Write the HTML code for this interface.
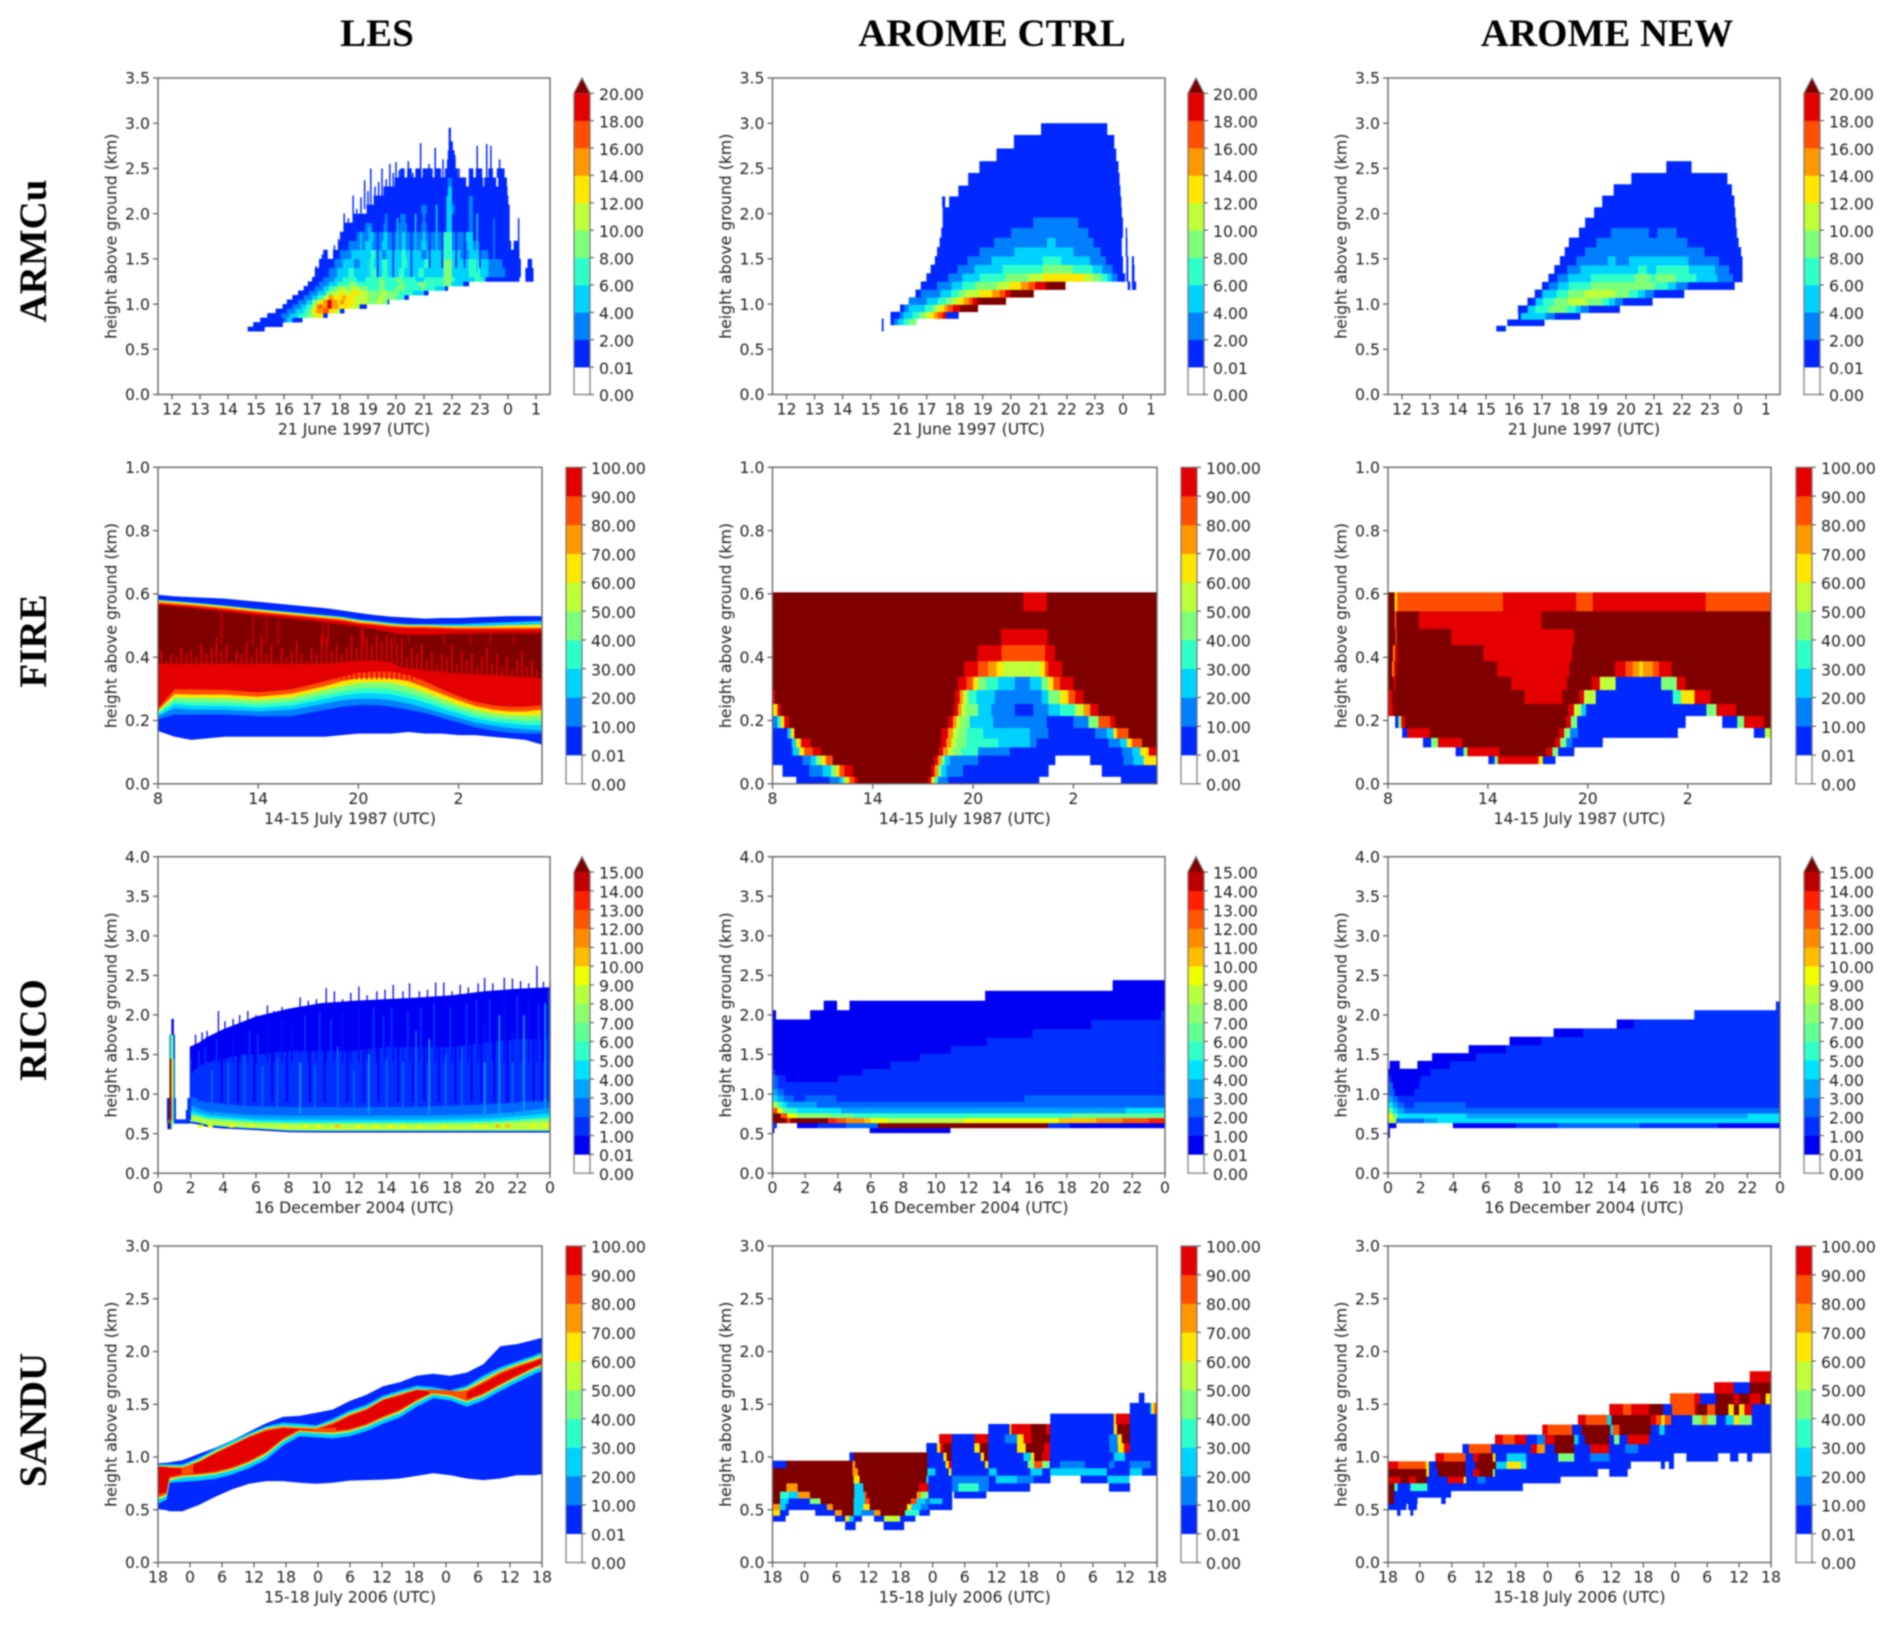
<!DOCTYPE html>
<html lang="en">
<head>
<meta charset="utf-8">
<title>Cloud fraction and liquid water panels</title>
<style>
html,body{margin:0;padding:0;background:#fff;width:1892px;height:1625px;overflow:hidden}
#figure{display:block;filter:blur(.7px)}
.tick{font-family:"DejaVu Sans",sans-serif;font-size:15.7px;fill:#222}
.head{font-family:"Liberation Serif",serif;font-weight:bold;font-size:39px;fill:#000;text-anchor:middle}
</style>
</head>
<body>
<svg id="figure" xmlns="http://www.w3.org/2000/svg" width="1892" height="1625" viewBox="0 0 1892 1625">
<rect width="1892" height="1625" fill="#fff"/>
<text class="head" x="377" y="46">LES</text>
<text class="head" x="992" y="46">AROME CTRL</text>
<text class="head" x="1607" y="46">AROME NEW</text>
<text class="head" transform="translate(46 251) rotate(-90)">ARMCu</text>
<text class="head" transform="translate(46 641) rotate(-90)">FIRE</text>
<text class="head" transform="translate(46 1030) rotate(-90)">RICO</text>
<text class="head" transform="translate(46 1420) rotate(-90)">SANDU</text>
</svg>
<script>
/* ---------- axis labels and ticks ---------- */
const armcuXTicks=[12,13,14,15,16,17,18,19,20,21,22,23,24,25];
const armcuXLabels=["12","13","14","15","16","17","18","19","20","21","22","23","0","1"];
const armcuYTicks=[0,.5,1,1.5,2,2.5,3,3.5];
const fireXTicks=[8,14,20,26];
const fireXLabels=["8","14","20","2"];
const fireYTicks=[0,.2,.4,.6,.8,1];
const ricoXTicks=[0,2,4,6,8,10,12,14,16,18,20,22,24];
const ricoXLabels=["0","2","4","6","8","10","12","14","16","18","20","22","0"];
const ricoYTicks=[0,.5,1,1.5,2,2.5,3,3.5,4];
const sanduXTicks=[18,24,30,36,42,48,54,60,66,72,78,84,90];
const sanduXLabels=["18","0","6","12","18","0","6","12","18","0","6","12","18"];
const sanduYTicks=[0,.5,1,1.5,2,2.5,3];
const xTitles=["21 June 1997 (UTC)","14-15 July 1987 (UTC)","16 December 2004 (UTC)","15-18 July 2006 (UTC)"];

/* ---------- colour levels ---------- */
const levels20=[0,.01,2,4,6,8,10,12,14,16,18,20];
const levels100=[0,.01,10,20,30,40,50,60,70,80,90,100];
const levels15=[0,.01,1,2,3,4,5,6,7,8,9,10,11,12,13,14,15];
const colors10=["#0028ff","#0080ff","#00d2ff","#2effc8","#7dff7a","#bfff39","#ffe600","#ff9800","#ff4e00","#e40000"];
const colors15=["#0000f4","#0030ff","#0068ff","#00a4ff","#00e2ff","#30ffc8","#60ff94","#8cff6c","#b8ff40","#eeff00","#ffbe00","#ff8a00","#ff5500","#ff2000","#c00000"];
const overColor="#800000";

/* ---------- ARMCu LES ---------- */
const armcuLesHeights=[.70,.75,.8,.85,.9,.95,1,1.05,1.1,1.15,1.2,1.25,1.3,1.4,1.5,1.6,1.7,1.8,1.9,2,2.1,2.2,2.3,2.4,2.5,2.6,2.7,2.8,2.95];
const armcuLesRuns=[
[14.7,1,15.3],
[14.9,1,15.95],
[15.15,1,16,3,16.1,5,16.3,1,16.65],
[15.4,1,15.9,3,16.2,5,16.5,7,16.8,9,17,11,17.2,13,17.4,1,17.55],
[15.7,1,16.1,3,16.4,5,16.7,7,16.9,9,17,13,17.15,15,17.4,17,17.6,13,17.85,11,18,1,18.15],
[15.95,1,16.3,3,16.6,5,16.8,7,17,11,17.15,15,17.25,17,17.35,15,17.55,19,17.7,15,17.95,13,18.4,11,18.7,1,18.95],
[16.1,1,16.5,3,16.8,5,17,9,17.2,13,17.4,15,17.55,19,17.7,15,17.9,13,18,15,18.15,13,18.5,11,19,9,19.3,11,19.5,9,19.7,1,19.75],
[16.3,1,16.7,3,17,5,17.2,7,17.4,11,17.6,15,17.75,13,18.1,15,18.2,13,18.5,11,19,9,19.4,11,19.6,9,20,7,20.3,1,20.45],
[16.5,1,16.9,3,17.2,5,17.5,9,17.7,11,18,13,18.15,11,18.4,13,18.7,11,19,9,19.5,11,19.65,9,20.1,7,20.6,5,21,1,21.15],
[16.7,1,17.1,3,17.4,5,17.6,7,17.8,9,18,11,18.2,9,18.4,11,18.7,9,19,7,19.4,9,19.6,7,20,9,20.3,7,20.9,9,21,7,21.4,5,21.75,1,21.85],
[16.85,1,17.25,3,17.6,5,17.9,7,18.3,9,18.6,7,19.4,9,19.6,7,20.1,9,20.3,7,20.8,9,21.1,7,21.7,9,21.95,7,22,5,22.4,1,22.6],
[17,1,17.4,3,17.8,5,18.1,7,18.6,5,18.9,7,19.4,9,19.55,7,20,9,20.2,7,20.7,5,21,7,21.7,9,22,7,22.1,5,22.8,7,23.1,5,23.2,1,24.4,0,24.62,1,24.9],
[17.1,1,17.6,3,17.9,5,18.3,7,18.5,5,19,7,19.3,5,19.5,7,19.7,5,20.1,7,20.3,5,20.8,7,21,5,21.7,9,22,5,22.6,7,23,5,23.3,3,23.9,1,24.45,0,24.62,1,24.9],
[17.25,1,17.8,3,18.1,5,18.5,3,18.7,5,19,7,19.2,5,19.5,7,19.7,5,20.2,7,20.4,5,21,7,21.2,5,21.7,9,22,5,22.6,7,23,5,23.3,3,23.8,1,24.45,0,24.7,1,24.85],
[17.4,1,17.55,0,17.75,1,18,3,18.4,5,19.1,7,19.25,5,19.5,3,19.65,5,20.2,7,20.35,5,20.9,3,21.1,5,21.7,7,22,5,22.3,3,22.6,5,23,3,23.3,1,24.4],
[17.95,1,18.3,3,18.9,5,19.15,3,19.5,5,19.7,3,20.2,5,20.35,3,20.9,5,21.1,3,21.7,7,22,3,22.55,5,22.75,3,23,1,24.1,0,24.2,1,24.35],
[18,1,18.6,3,19.1,5,19.2,3,19.55,5,19.7,3,20.2,5,20.35,3,20.95,5,21.05,3,21.7,7,22,3,22.5,5,22.75,1,24.05],
[18.15,1,18.9,3,19.15,1,19.55,3,19.7,1,20.1,3,20.4,1,20.9,3,21.1,1,21.8,5,22,1,22.6,3,22.75,1,24.05],
[18.5,1,19.6,3,19.7,1,20.15,3,20.35,1,20.95,3,21.05,1,21.8,5,22,1,22.6,3,22.75,1,24.05],
[18.95,1,20.9,3,21.1,1,21.8,5,22,3,22.1,1,22.6,3,22.75,1,24.05],
[19.2,1,21.8,5,22,1,22.6,3,22.75,1,24],
[19.55,1,21.85,5,22,1,23.97],
[19.95,1,21.85,3,22,1,22.45,0,22.6,1,23.1,0,23.15,1,23.55,0,23.65,1,23.95],
[20.15,1,20.25,0,20.4,1,20.55,0,20.7,1,20.85,0,20.95,1,21.3,0,21.4,1,21.6,0,21.75,1,22.2,0,22.6,1,22.75,0,22.85,1,23.05,0,23.3,1,23.45,0,23.6,1,23.85],
[21.82,1,22.12],
[21.85,1,22.08],
[21.88,1,22.02],
[21.88,1,21.95]
];
const armcuLesSpikeTime=[17.15,17.37,17.55,17.8,17.95,18.15,18.3,18.47,18.6,18.75,18.88,19,19.1,19.25,19.38,19.5,19.65,19.78,19.9,20,20.12,20.28,20.44,20.6,20.72,20.88,21.02,21.18,21.4,21.55,21.68,22.1,22.25,22.48,22.65,22.9,23.05,23.24,23.39,23.55,23.7,23.85,24.38];
const armcuLesSpikeLow=[1.25,1.3,1.4,1.5,1.6,1.7,1.8,1.9,2,2,2.05,2.1,2.1,2.2,2.2,2.2,2.25,2.25,2.3,2.3,2.3,2.3,2.3,2.3,2.3,2.3,2.3,2.3,2.3,2.3,2.3,2.3,2.3,2.2,2.2,2.2,2.2,2.2,2.2,2.2,2.2,2.2,1.4];
const armcuLesSpikeTop=[1.42,1.55,1.5,1.65,1.72,2,1.95,2.2,2.05,2.18,2.37,2.25,2.5,2.3,2.35,2.5,2.38,2.55,2.45,2.57,2.48,2.5,2.58,2.45,2.5,2.78,2.5,2.55,2.73,2.5,2.6,2.65,2.5,2.4,2.3,2.75,2.5,2.77,2.75,2.4,2.6,2.5,1.95];
const armcuLesStreakTime=[19.35,19.9,20.55,21.2,21.65,22.15,22.45,23,18.75,19.05,20.05,20.7,21.45,22.9,23.5];
const armcuLesStreakLow=[1.3,1.3,1.3,1.4,1.4,1.4,1.4,1.4,1.25,1.3,1.3,1.35,1.35,1.35,1.35];
const armcuLesStreakTop=[1.95,2.05,2.1,2.1,2.15,2.2,2.2,2.2,1.8,1.85,1.95,2,2.1,2,1.95];
const armcuLesStreakValue=[1,1,1,1,1,1,1,1,5,5,5,5,5,5,3];

/* ---------- ARMCu AROME CTRL ---------- */
const armcuCtrlHeights=[.70,.77,.84,.915,.995,1.075,1.16,1.25,1.34,1.435,1.53,1.63,1.735,1.845,1.96,2.07,2.19,2.31,2.45,2.58,2.72,2.87,3.0];
const armcuCtrlRuns=[
[15.4,1,15.45],
[15.4,1,15.45,0,15.71,1,15.83,3,15.98,5,16.17,7,16.36,9,16.63],
[15.71,1,16.04,3,16.17,5,16.49,7,16.73,9,16.93,11,17.1,13,17.26,15,17.4,17,17.57,19,17.69,1,18.13],
[16.05,1,16.19,3,16.36,5,16.93,7,17.2,9,17.32,11,17.48,13,17.63,15,17.75,17,17.93,19,18.19,21,18.82],
[16.36,3,17,5,17.4,7,17.69,9,17.92,11,18.13,13,18.32,15,18.51,17,18.64,19,18.81,21,19.82],
[16.6,1,16.79,3,17.49,5,17.87,7,18.13,9,18.37,11,18.89,13,19.33,15,19.6,17,19.8,19,19.98,21,20.81],
[16.79,1,17.37,3,17.89,5,18.27,7,18.73,9,19.51,11,19.95,13,20.36,15,20.63,17,20.87,19,21.25,21,21.94,0,24.17,1,24.25,0,24.32,1,24.46],
[16.99,1,17.77,3,18.27,5,18.89,7,19.8,9,20.62,11,21.14,13,22.62,11,22.92,9,23.23,7,23.45,5,23.6,3,23.8,1,24.07,0,24.12,1,24.18,0,24.32,1,24.4],
[17.14,1,18.1,3,18.71,5,19.71,7,21.14,9,22.2,7,22.92,5,23.27,3,23.63,1,23.99,0,24.12,1,24.18,0,24.32,1,24.4],
[17.29,1,18.45,3,19.31,5,21.14,7,21.8,5,22.82,3,23.39,1,23.99,0,24.12,1,24.18,0,24.32,1,24.38],
[17.37,1,18.88,3,20.13,5,22.24,3,23.2,1,23.95,0,24.1,1,24.15],
[17.46,1,19.4,3,21.29,5,21.6,3,22.95,1,23.95,0,24.1,1,24.15],
[17.52,1,20.01,3,22.76,1,23.99,0,24.1,1,24.14],
[17.57,1,20.8,3,22.4,1,23.99],
[17.57,1,23.95],
[17.55,1,17.65,0,17.8,1,23.93],
[18.13,1,23.9],
[18.48,1,23.87],
[18.88,1,23.83],
[19.49,1,23.75],
[20.11,1,23.68],
[21.08,1,23.43]
];

/* ---------- ARMCu AROME NEW ---------- */
const armcuNewHeights=[.70,.76,.83,.905,.985,1.07,1.16,1.245,1.335,1.43,1.53,1.63,1.735,1.845,1.955,2.07,2.2,2.325,2.45,2.58];
const armcuNewRuns=[
[15.37,1,15.7],
[15.76,1,17.08],
[16.15,1,16.25,5,17.13,3,17.46,1,18.36],
[16.14,1,16.49,5,16.75,7,17.25,9,17.88,7,18.2,5,18.38,3,18.68,1,19.77],
[16.48,1,16.77,5,17.04,7,17.44,9,17.94,11,18.6,9,19.15,7,19.39,5,19.61,3,19.89,1,20.94],
[16.74,1,17.01,5,17.52,7,17.93,9,18.51,11,19.6,9,20.11,7,20.43,5,20.68,3,21,1,22.07],
[17,1,17.25,3,17.58,5,17.96,7,18.75,9,21.04,7,21.5,5,21.79,3,22.2,1,23.87],
[17.23,1,17.55,3,17.93,5,18.74,7,20.31,9,20.89,7,21.06,9,21.77,7,22.51,5,23.27,3,23.82,1,24.15],
[17.44,1,17.9,3,18.37,5,20.43,7,20.75,5,21.08,7,22.25,5,23.18,3,23.68,1,24.15],
[17.64,1,18.23,3,19.35,5,19.63,3,20.11,5,22.23,3,23.32,1,24.15],
[17.81,1,18.54,3,22.8,1,24.1],
[17.96,1,18.94,3,22.19,1,24.01],
[18.32,1,19.46,3,20.82,1,21.12,3,21.81,1,23.95],
[18.54,1,23.92],
[18.86,1,23.89],
[19.15,1,23.86],
[19.56,1,23.77],
[20.19,1,23.61],
[21.44,1,22.33]
];

/* ---------- FIRE LES ---------- */
const fireLesTime=[8,9,10,12,14,16,18,19,20,21,22,23,24,25,26,27,28,29,30,31];
const fireLesBase=[.168,.15,.14,.15,.15,.15,.15,.155,.16,.16,.16,.165,.16,.16,.155,.155,.15,.145,.14,.125];
const fireLesBlueTop=[.205,.22,.22,.22,.215,.215,.235,.245,.25,.25,.245,.235,.225,.21,.195,.18,.17,.163,.16,.16];
const fireLesMidTop=[.215,.24,.235,.235,.23,.235,.255,.265,.27,.27,.265,.255,.24,.225,.21,.195,.185,.178,.173,.17];
const fireLesCyanTop=[.22,.253,.248,.247,.242,.248,.27,.28,.287,.288,.283,.273,.258,.24,.224,.208,.198,.192,.187,.186];
const fireLesTurqTop=[.225,.263,.26,.258,.253,.26,.283,.293,.302,.303,.3,.288,.272,.253,.236,.22,.21,.204,.2,.2];
const fireLesGreenTop=[.23,.275,.273,.272,.266,.274,.298,.31,.32,.322,.32,.308,.29,.27,.25,.235,.224,.218,.216,.218];
const fireLesYellowTop=[.234,.285,.283,.283,.276,.286,.31,.325,.335,.337,.335,.325,.306,.285,.265,.247,.236,.23,.23,.235];
const fireLesOrangeTop=[.24,.3,.3,.298,.29,.3,.325,.34,.352,.355,.355,.345,.325,.3,.278,.26,.25,.245,.245,.25];
const fireLesRedTop=[.57,.566,.562,.552,.541,.531,.521,.516,.507,.502,.496,.493,.493,.491,.489,.489,.489,.489,.489,.489];
const fireLesCapOrange=[.575,.571,.567,.557,.546,.536,.526,.521,.512,.507,.501,.498,.498,.496,.494,.494,.494,.494,.494,.494];
const fireLesCapYellow=[.58,.576,.572,.562,.551,.541,.531,.526,.517,.512,.505,.502,.502,.5,.499,.499,.5,.502,.503,.505];
const fireLesCapCyan=[.583,.579,.575,.565,.554,.544,.535,.53,.521,.516,.51,.506,.506,.506,.506,.508,.51,.512,.514,.516];
const fireLesTop=[.597,.592,.59,.585,.575,.565,.555,.548,.54,.533,.528,.525,.522,.524,.524,.526,.528,.53,.53,.53];
const fireLesBandValues=[5,15,25,35,45,65,80,95,85,65,25,5];
const fireLesDarkTime=[8,10,12,14,16,18,20,21,22,22.5,24,26,28,31];
const fireLesDarkTop=[.565,.555,.544,.532,.522,.51,.497,.488,.478,.472,.47,.474,.476,.476];
const fireLesDarkBottom=[.38,.38,.38,.38,.38,.38,.39,.39,.385,.37,.36,.35,.345,.335];
const fireLesToothLow=.33;
const fireLesToothTime=[8.2,8.5,8.8,9.1,9.4,9.7,10,10.3,10.6,10.9,11.2,11.5,11.8,12.1,12.4,12.7,13,13.3,13.6,13.9,14.2,14.5,14.8,15.1,15.4,15.7,16,16.3,16.6,16.9,17.2,17.5,17.8,18.1,18.4,18.7,19,19.3,19.6,19.9,20.2,20.5,20.8,21.1,21.4,21.7,22,22.3,22.6,22.9,23.2,23.5,23.8,24.1,24.4,24.7,25,25.3,25.6,25.9,26.2,26.5,26.8,27.1,27.4,27.7,28,28.3,28.6,28.9,29.2,29.5,29.8,30.1,30.4,30.7];
const fireLesToothTop=[.42,.39,.41,.4,.43,.41,.42,.4,.44,.41,.43,.46,.42,.44,.39,.42,.41,.45,.4,.43,.47,.41,.44,.39,.43,.4,.42,.45,.41,.39,.43,.41,.47,.46,.42,.44,.41,.43,.47,.43,.49,.46,.44,.47,.45,.47,.46,.44,.46,.4,.43,.41,.44,.39,.42,.38,.41,.4,.44,.38,.42,.39,.41,.37,.4,.43,.38,.41,.37,.4,.36,.39,.42,.37,.39,.36];
const fireLesSlitTime=[11.8,13.7,14.5,15.2,17.9,18.2,20.3,22.2,23,25.1,26.7,27.9,29.3];
const fireLesSlitTop=[.54,.535,.53,.52,.51,.51,.49,.47,.468,.47,.472,.472,.47];
const fireLesSlitValue=95;

/* ---------- FIRE AROME CTRL ---------- */
const fireCtrlHeights=[0,.023,.06,.09,.116,.144,.177,.215,.253,.297,.339,.388,.439,.49,.546,.605];
const fireCtrlRuns=[
[9.42,5,11.4,15,12,25,12.2,45,12.4,65,12.6,85,12.9,95,13.1,100,17.3,95,17.5,65,17.7,35,17.9,15,18.5,5,23.94,0,28.84,5,31],
[8.6,5,10.2,15,11,25,11.5,45,11.8,65,12,85,12.3,95,12.8,100,17.5,95,17.7,75,17.9,45,18.1,25,18.4,15,19.4,5,24.5,0,27.7,5,31],
[8,5,9.8,15,10.3,25,10.6,45,10.9,65,11.2,85,11.6,100,17.67,95,17.9,75,18.1,45,18.3,25,18.6,15,20.3,5,24.9,0,27,5,29,15,29.6,25,30.2,65,31],
[8,5,9.2,25,9.6,65,9.9,85,10.4,95,10.9,100,17.94,95,18.2,75,18.5,55,18.8,45,19.3,35,20.3,15,22.2,5,28.9,15,29.5,25,30,65,30.5,95,31],
[8,5,9.15,25,9.4,65,9.7,95,10.3,100,18.07,95,18.4,75,18.7,55,19,45,19.6,35,21.5,25,23.4,15,23.8,5,28.1,15,28.8,25,29.2,65,29.5,85,30.1,100,31],
[8,5,8.9,25,9.1,65,9.3,100,18.1,95,18.5,75,18.8,55,19.1,45,19.6,35,20.6,25,23.4,15,24.5,5,27.3,15,28,25,28.4,65,28.6,85,29.3,100,31],
[8,15,8.3,35,8.5,65,8.7,95,9,100,18.5,95,18.8,75,19,55,19.3,45,19.8,25,21.2,15,24.4,5,26,15,26.9,45,27.5,85,28.2,95,28.5,100,31],
[8,65,8.3,95,8.5,100,18.85,95,19.1,75,19.3,55,19.6,45,20.3,25,21.1,15,22.5,5,23.6,15,24.5,25,25.2,35,26.1,55,26.6,75,27,95,27.5,100,31],
[8,95,8.15,100,18.9,95,19.2,75,19.4,55,19.7,35,20.2,25,21.3,15,24.1,25,24.5,45,25.2,65,25.7,85,26.1,95,26.6,100,31],
[8,100,19.1,95,19.6,85,20,65,20.3,45,20.8,35,21.5,25,22.5,15,23.4,25,24.1,45,24.5,65,24.8,85,25.2,95,26,100,31],
[8,100,19.46,95,20.3,85,20.9,75,21.4,65,21.8,55,24,65,24.3,85,24.5,95,25.34,100,31],
[8,100,20.27,95,21.7,85,24.3,95,24.9,100,31],
[8,100,21.67,95,24.46,100,31],
[8,100,31],
[8,100,23,95,24.4,100,31]
];

/* ---------- FIRE AROME NEW ---------- */
const fireNewHeights=[.063,.088,.116,.146,.177,.215,.253,.297,.339,.388,.439,.49,.546,.605];
const fireNewRuns=[
[14.03,5,14.4,45,14.6,95,17.04,65,17.3,5,18.04],
[12.06,5,12.53,45,12.77,95,14.7,100,17.5,95,17.87,45,18.22,5,19.17],
[10.1,5,10.59,45,11,95,12.46,100,18.04,95,18.34,45,18.7,15,19.06,5,20.88],
[8.85,5,9.15,95,10.5,100,18.27,95,18.58,45,18.94,15,19.41,5,25.39,0,29.97,5,30.63,55,31],
[8.43,5,8.62,45,8.8,95,9.02,100,18.7,95,18.98,45,19.36,5,25.86,0,28.07,5,28.97,45,29.38,95,30.56,100,31],
[8,95,8.3,100,18.82,95,19.17,55,19.6,25,19.89,5,27.12,45,27.72,95,28.9,100,31],
[8,95,8.25,100,16.2,95,18.46,100,19.48,95,19.77,55,20.48,5,25.1,35,25.6,65,26.41,95,27.36,100,31],
[8,100,8.35,95,8.45,100,15.4,95,18.75,100,20.24,95,20.72,55,21.67,5,24.4,45,25.34,95,25.86,100,31],
[8,100,8.25,75,8.35,95,8.5,100,14.55,95,18.89,100,21.62,95,22.26,85,22.7,75,23.1,65,23.3,75,23.9,85,24.27,95,25.03,100,31],
[8,100,8.3,75,8.4,95,8.55,100,13.74,95,19.06,100,31],
[8,100,8.45,85,8.52,100,11.8,95,19.17,100,31],
[8,100,8.4,85,8.5,100,9.85,95,17.23,100,31],
[8,100,8.4,65,8.55,85,14.9,95,19.3,85,20.3,95,27.08,85,31]
];

/* ---------- RICO LES ---------- */
const ricoLesTime=[1.95,2.2,2.5,3,4,5,6,8,10,12,14,16,18,20,22,24];
const ricoLesBase=[.64,.63,.62,.59,.57,.56,.55,.525,.52,.52,.52,.52,.52,.52,.52,.52];
const ricoLesStripe=[.655,.65,.64,.61,.59,.575,.565,.54,.535,.535,.535,.535,.535,.535,.535,.535];
const ricoLesCyanLow=[.665,.66,.65,.62,.60,.585,.575,.55,.545,.545,.545,.545,.545,.545,.545,.545];
const ricoLesLime=[.73,.72,.71,.68,.665,.65,.635,.625,.625,.625,.625,.625,.625,.63,.65,.67];
const ricoLesGreen=[.76,.75,.735,.705,.69,.675,.66,.65,.65,.65,.65,.65,.655,.66,.68,.71];
const ricoLesCyan=[.80,.79,.77,.74,.72,.705,.69,.68,.68,.68,.68,.68,.685,.695,.72,.76];
const ricoLesAzure=[.86,.85,.82,.79,.77,.75,.74,.73,.73,.73,.73,.73,.74,.75,.78,.83];
const ricoLesMid=[.98,.96,.93,.90,.88,.86,.85,.84,.84,.84,.84,.84,.86,.87,.90,.95];
const ricoLesBody=[1.2,1.3,1.35,1.4,1.45,1.5,1.5,1.55,1.55,1.55,1.6,1.6,1.6,1.65,1.7,1.7];
const ricoLesTop=[1.6,1.62,1.65,1.72,1.82,1.9,1.98,2.08,2.15,2.18,2.2,2.22,2.25,2.3,2.33,2.35];
const ricoLesBandValues=[.5,4.5,8.5,6.5,4.5,3.5,2.5,1.5,.5];
const ricoLesStreakTime=[3.3,4.3,5.3,6.4,7.3,8.7,9.6,11,12,12.9,14,15,15.8,16.6,17.6,18.6,20,20.9,21.7,22.4,23.7];
const ricoLesStreakLow=.75;
const ricoLesStreakTop=[1.3,1.4,1.5,1.35,1.45,1.5,1.35,1.6,1.3,1.5,1.45,1.6,1.8,1.7,1.5,1.6,1.9,2,1.8,2,2.15];
const ricoLesStreakValue=[2.5,2.5,2.5,2.5,2.5,3.5,2.5,2.5,2.5,3.5,2.5,2.5,2.5,3.5,2.5,2.5,3.5,3.5,2.5,3.5,3.5];
const ricoLesFineLow=.9;
const ricoLesFineTime=[2.5,2.9,3.6,3.9,4.6,4.9,5.6,5.9,6.1,6.7,7,7.6,7.9,8.2,9,9.3,9.9,10.2,10.6,11.3,11.6,12.3,12.6,13.2,13.5,13.8,14.3,14.7,15.3,15.6,16.1,16.3,16.9,17.2,17.9,18.2,18.9,19.2,19.5,19.8,20.3,20.6,21.2,21.4,22,22.7,23,23.3,23.5,23.9];
const ricoLesFineTop=[1.55,1.6,1.7,1.6,1.75,1.8,1.8,1.85,1.75,1.95,1.85,1.95,2,1.85,2,1.9,2.05,2.1,1.95,2.05,2.1,2.1,2,2.1,2.15,2,2.1,2.15,2.05,2.15,2.1,2,2.15,2.2,2.1,2.2,2.15,2.05,2.2,2.25,2.2,2.1,2.25,2.2,2.25,2.25,2.3,2.15,2.3,2.3];
const ricoLesFineValue=[1.5,1.5,1.5,.5,1.5,.5,1.5,.5,1.5,1.5,.5,1.5,.5,1.5,1.5,.5,1.5,.5,1.5,1.5,.5,1.5,.5,1.5,.5,1.5,1.5,.5,1.5,.5,1.5,.5,1.5,.5,1.5,.5,1.5,.5,1.5,.5,1.5,.5,1.5,.5,1.5,1.5,.5,1.5,.5,1.5];
const ricoLesHotLow=.575;
const ricoLesHotTop=.615;
const ricoLesHotTime=[2.6,3.2,4.5,5.7,7.8,9,9.8,11,12.3,13.4,14.2,15,16,17.5,19.5,20,20.8,21.4,23,23.7];
const ricoLesHotValue=[9.5,9.5,9.5,9.5,9.5,9.5,9.5,10.5,9.5,9.5,9.5,9.5,9.5,9.5,9.5,9.5,10.5,10.5,9.5,9.5];
const ricoLesSpikeTime=[2.3,2.7,3,3.7,4.1,4.6,5,5.5,6,6.7,7.1,7.6,8.2,8.7,9.2,9.7,10.3,10.8,11.3,11.8,12.3,12.8,13.4,13.9,14.4,15,15.4,16,16.5,17,17.5,18,18.5,19,19.6,20,20.5,21.2,21.7,22.2,22.7,23.2,23.6,24];
const ricoLesSpikeLow=1.4;
const ricoLesSpikeTop=[1.75,1.78,1.8,2.05,1.92,1.95,2,2.05,2,2.12,2.05,2.1,2.08,2.22,2.18,2.2,2.34,2.3,2.2,2.28,2.36,2.25,2.3,2.32,2.38,2.3,2.4,2.3,2.32,2.41,2.41,2.3,2.38,2.35,2.4,2.47,2.4,2.47,2.46,2.43,2.4,2.62,2.42,2.42];
const ricoLesSpikeValue=.5;
const ricoLesEarlyHeights=[.56,.63,.68,.8,.95,1.45,1.75,1.95];
const ricoLesEarlyRuns=[
[.58,.5,.7,15,.78,4,.85],
[.55,.5,.62,6,.68,15,.78,9,.88,4,1,1,1.95],
[.55,.5,.62,1,.68,15,.8,11,.88,5,.98,1.5,1.08,0,1.7,1.5,2],
[.55,.5,.62,1,.68,15,.8,11,.88,5,.98,1.5,1.08,0,1.8,1.5,2],
[.7,15,.8,11,.85,8,.93,5,.98,1,1.02,0,1.95,1.5,2.05],
[.7,1,.75,5,.82,8,.88,5,.95,1,1.02],
[.82,.5,.95]
];

/* ---------- RICO AROME CTRL ---------- */
const ricoCtrlHeights=[.51,.573,.636,.70,.76,.83,.906,.986,1.07,1.155,1.24,1.32,1.416,1.513,1.614,1.715,1.825,1.943,2.06,2.18,2.305,2.44];
const ricoCtrlRuns=[
[0,.5,.1,0,5.94,.5,10.86],
[0,1.5,.25,0,1.5,.5,2.77,1.5,4.5,2.5,6.45,16,16.86,1.5,18.16,.5,24],
[0,16,.85,13.5,1.1,16,3.4,13.5,3.9,12.5,4.5,11.5,5.6,10.5,6,9.5,7,8.5,11.7,9.5,17.5,10.5,19.8,11.5,21.4,12.5,23,13.5,24],
[0,16,.5,12,.9,9.5,1.5,7.5,3.6,6.5,5,5.5,18.3,6.5,24],
[0,12,.3,9,.6,6.5,.9,5,1.5,4.5,4.2,3.5,21.6,4.5,24],
[0,8,.3,5.5,.6,4.5,.9,3.5,2.7,2.5,24],
[0,4.5,.3,3.5,.7,2.5,1.3,1,2,2.5,3.9,1.5,15.4,2.5,24],
[0,3.5,.3,2.5,.7,1.5,24],
[0,2.5,.3,1.5,24],
[0,2,.3,1,.8,.5,4,1.5,24],
[0,1.5,.2,.5,5.5,1.5,24],
[0,.5,7.2,1.5,24],
[0,.5,9,1.5,24],
[0,.5,10.9,1.5,24],
[0,.5,13.1,1.5,24],
[0,.5,15.9,1.5,24],
[0,.5,19.5,1.5,24],
[0,.5,.2,0,2.3,.5,23.75,1.5,24],
[3.13,.5,3.93,0,4.71,.5,24],
[13,.5,24],
[20.8,.5,24]
];

/* ---------- RICO AROME NEW ---------- */
const ricoNewHeights=[.45,.573,.636,.695,.758,.83,.9,.98,1.066,1.15,1.23,1.32,1.42,1.517,1.618,1.724,1.83,1.943,2.06,2.17];
const ricoNewRuns=[
[0,.5,.1],
[0,.5,.5,0,3.97,.5,7.85,1.5,10.4,2.5,15.4,1.5,20.2,.5,24],
[0,8.5,.5,2.5,2.2,3.5,3,4.5,24],
[0,9.5,.3,6.5,.6,4.5,4.8,3.5,22,4.5,24],
[0,6.5,.3,4.5,.6,3.5,1,2.5,24],
[0,4.5,.3,3.5,.6,2.5,1,1.5,1.6,2.5,4.75,1.5,24],
[0,3.5,.3,2.5,.6,1,1,1.5,24],
[0,2.5,.4,.5,1.6,1.5,24],
[0,2.5,.3,.5,1.9,1.5,24],
[0,1.5,.2,.5,2,1.5,24],
[0,.5,2.6,1.5,24],
[.1,.5,.7,0,1.8,.5,3.8,1.5,24],
[2.7,.5,5.4,1.5,24],
[4.94,.5,7.23,1.5,24],
[7.44,.5,9.39,1.5,24],
[10.14,.5,11.95,1.5,24],
[14,.5,15.06,1.5,24],
[18.75,1.5,24],
[23.75,1.5,24]
];

/* ---------- SANDU LES ---------- */
const sanduLesTime=[18,19.6,20.2,22.6,25.7,28.9,32,35.1,38.3,41.4,44.5,47.7,50.8,53.9,57.1,60.2,63.4,66.5,69.6,72.8,75.9,79,82.2,85.3,88.5,90];
const sanduLesBase=[.51,.5,.49,.49,.55,.63,.70,.75,.775,.775,.76,.75,.76,.78,.785,.79,.80,.825,.85,.83,.80,.785,.80,.83,.83,.84];
const sanduLesA=[.56,.60,.76,.77,.78,.80,.84,.90,.98,1.11,1.2,1.19,1.18,1.2,1.25,1.32,1.38,1.48,1.56,1.54,1.48,1.54,1.63,1.71,1.79,1.82];
const sanduLesB=[.6,.63,.78,.81,.82,.84,.88,.94,1.02,1.15,1.24,1.23,1.22,1.24,1.29,1.36,1.42,1.52,1.595,1.575,1.52,1.58,1.67,1.75,1.83,1.86];
const sanduLesC=[.62,.65,.80,.825,.835,.855,.895,.955,1.04,1.165,1.25,1.24,1.235,1.255,1.305,1.375,1.44,1.535,1.61,1.59,1.535,1.595,1.685,1.765,1.845,1.875];
const sanduLesD=[.65,.67,.82,.84,.85,.87,.91,.97,1.055,1.18,1.265,1.255,1.25,1.27,1.32,1.39,1.455,1.55,1.62,1.60,1.55,1.61,1.70,1.78,1.86,1.89];
const sanduLesE=[.91,.905,.90,.895,.955,1.04,1.115,1.19,1.25,1.275,1.27,1.265,1.31,1.39,1.45,1.54,1.585,1.635,1.625,1.60,1.62,1.70,1.79,1.85,1.905,1.935];
const sanduLesF=[.915,.915,.91,.905,.965,1.05,1.125,1.2,1.265,1.29,1.28,1.275,1.33,1.405,1.46,1.55,1.6,1.645,1.635,1.61,1.64,1.72,1.81,1.87,1.92,1.95];
const sanduLesG=[.92,.92,.92,.915,.98,1.065,1.135,1.21,1.28,1.30,1.29,1.285,1.34,1.42,1.47,1.56,1.61,1.65,1.64,1.615,1.655,1.74,1.825,1.885,1.94,1.97];
const sanduLesH=[.935,.935,.935,.935,1,1.085,1.16,1.23,1.295,1.33,1.32,1.305,1.365,1.445,1.5,1.585,1.635,1.68,1.665,1.635,1.68,1.775,1.855,1.91,1.966,1.997];
const sanduLesTop=[.94,.945,.95,.97,1.03,1.09,1.16,1.24,1.32,1.38,1.39,1.42,1.45,1.53,1.59,1.67,1.71,1.77,1.79,1.77,1.80,1.88,2.05,2.07,2.11,2.13];
const sanduLesBandValues=[5,25,55,80,95,80,55,25,5];
const sanduLesThinATime=[22.4,24.6];
const sanduLesThinALow=[.84,.85];
const sanduLesThinAHigh=[.895,.93];
const sanduLesThinBTime=[45.5,48,51.4];
const sanduLesThinBLow=[1.265,1.255,1.25];
const sanduLesThinBHigh=[1.275,1.27,1.28];
const sanduLesThinCTime=[68.7,72.8,75.9];
const sanduLesThinCLow=[1.61,1.59,1.55];
const sanduLesThinCHigh=[1.64,1.63,1.62];

/* ---------- SANDU AROME CTRL ---------- */
const sanduCtrlHeights=[.31,.39,.446,.5,.557,.61,.674,.753,.826,.896,.965,1.044,1.133,1.218,1.313,1.411,1.513,1.608];
const sanduCtrlRuns=[
[31.6,5,33.5,0,38.8,5,42.6],
[18,5,20.4,0,29.7,5,31.6,65,32.4,25,33.2,5,34.7,0,37,5,38.9,55,41.9,5,44.7],
[18,65,19.4,5,21,0,26,5,29.7,75,31,100,33.2,25,34.7,15,37,75,38.2,100,42.8,35,45.5,5,47.4],
[18,75,19.4,25,20.5,5,28.2,75,29.3,100,33.2,25,35,65,36.2,100,43.2,65,44,25,45.8,15,47.2,5,51.6],
[18,100,19.4,25,21,5,25,45,27,100,33.2,25,35.3,85,36.2,100,43.9,85,45,25,46.6,15,47.5,25,49.8,5,51.6],
[18,100,19.4,35,21,25,22.8,75,25,100,33.3,25,35.2,85,35.6,100,45,75,45.8,45,47.2,5,51.6,0,52,5,58],
[18,100,20.6,75,22.7,100,33.3,25,35,100,45.4,95,47.2,5,51.6,15,52.8,35,56.6,15,58.5,5,66.2,0,81,5,84.9],
[18,100,33.2,65,34.3,100,46.8,25,47.2,5,51.6,15,58.5,5,59.8,25,63.8,15,66.9,5,70,0,75.7,5,80.7,25,84.8],
[18,100,33,75,34,100,47,25,48.5,5,51,65,51.5,5,58.5,25,60,5,66.3,25,68.5,5,70,25,80.6,5,84.9,25,87.2,5,90],
[18,5,20.6,100,33,75,33.5,100,47,5,50.4,65,51,95,51.5,5,57.8,65,58.4,5,65.8,45,67,85,68.5,45,69.9,5,71.8,15,76.5,5,81,15,82,5,84.9,15,88.8,5,90],
[32.4,5,33.2,100,47,5,50,65,50.6,100,51.5,5,57,65,57.6,100,58.4,5,65,25,66.4,65,67,100,68.5,95,69.9,5,81.9,25,84,5,90],
[46.8,5,48.8,65,49.4,95,50,100,51.5,5,55.8,65,56.8,100,58.4,5,63.8,65,65.4,100,68.8,95,70,5,81.1,15,82.7,65,83.8,95,84.9,5,90],
[49.2,95,51.6,5,55.8,95,58.4,5,61.5,15,63.8,65,65,95,66.5,100,70,5,81,15,82.6,65,83.4,100,84.9,5,90],
[58.4,5,62.4,65,62.7,95,66.4,100,69.2,95,70,5,81.9,65,82.5,100,84.9,5,90],
[70,5,81.9,65,82.3,95,84.9,5,90],
[84.9,5,88.7,25,89,65,89.5,85,90],
[86.6,1,87.6,0,89.85,5,90]
];

/* ---------- SANDU AROME NEW ---------- */
const sanduNewHeights=[.446,.5,.557,.617,.68,.753,.816,.889,.959,1.038,1.123,1.212,1.307,1.40,1.503,1.604,1.709,1.813];
const sanduNewRuns=[
[19.7,5,20.3,0,22.2,5,22.7],
[18,5,21.4,0,21.8,5,23.4],
[18,100,19.1,5,23.5,0,28,5,28.8],
[18,100,19.1,5,29.8],
[18,100,19.2,35,19.8,5,22.2,35,25.4,5,43.3],
[18,95,20.3,100,21.9,95,23.3,100,25.3,5,29.2,95,32.2,65,32.7,5,34.8,15,36.3,5,50.4],
[18,100,25.2,65,25.7,5,27.4,100,32.6,5,34,95,35.1,100,37.7,45,38.1,5,57.4,0,59.6,5,63],
[18,95,19.9,85,25.1,65,25.7,5,27,100,32.6,5,34.4,100,38.3,25,40.3,65,43,35,44,5,63.6,0,69.3,5,70,0,70.8,5,71.7],
[26.9,95,28.5,85,32.6,5,34,95,35,100,37.7,65,38.2,5,40.3,25,44,5,50,45,53,5,56,15,59.6,5,71.7,0,74.1,5,80,0,82.3,5,83.8,0,85.5,5,86.4],
[32,5,33.2,85,37.4,5,44.8,95,46,75,47.5,5,49.3,100,53,5,56,95,59.6,5,62.6,15,65,5,90],
[38.1,95,39.6,85,41.8,95,44,5,46,15,47.5,95,49.3,100,53,25,53.8,5,55,100,59.6,5,60.5,45,61.5,5,63,95,67.1,5,90],
[47,95,48,85,52.6,5,54.4,100,59.8,25,60.3,85,61.5,100,67.4,5,69,25,70,5,90],
[53.7,95,55.2,85,59.2,25,60,100,67.4,95,68.4,85,69.4,65,70,85,71.2,5,75.2,45,77,75,78,45,79.7,5,81.5,25,83,65,84,45,86.4,5,90],
[59.6,95,62.2,85,63.7,95,67.1,100,69.7,5,71.4,85,75.6,95,76,100,78,85,79.5,100,82,65,83,100,84,65,85,95,86.4,5,90],
[71,85,75.6,95,76.7,5,79.7,100,83,95,84,100,86,95,88,100,89,65,90],
[79.3,95,83,5,86,100,90],
[86,95,90]
];

/* ---------- figure layout ---------- */
const svg=document.getElementById('figure');
const NS='http://www.w3.org/2000/svg';
const rowTops=[78,467.3,856.7,1246];
const plotH=316.5;
const colGeom=[
 {l:158,rExt:550,rFull:542,cbExt:574,cbFull:566},
 {l:772.5,rExt:1165,rFull:1157,cbExt:1188,cbFull:1181},
 {l:1388,rExt:1780,rFull:1771,cbExt:1804,cbFull:1796}];
const rowDefs=[
 {key:'armcu',ext:true,xd:[11.5,25.5],yMax:3.5,xt:armcuXTicks,xl:armcuXLabels,yt:armcuYTicks,levels:levels20,colors:colors10},
 {key:'fire',ext:false,xd:[8,31],yMax:1,xt:fireXTicks,xl:fireXLabels,yt:fireYTicks,levels:levels100,colors:colors10},
 {key:'rico',ext:true,xd:[0,24],yMax:4,xt:ricoXTicks,xl:ricoXLabels,yt:ricoYTicks,levels:levels15,colors:colors15},
 {key:'sandu',ext:false,xd:[18,90],yMax:3,xt:sanduXTicks,xl:sanduXLabels,yt:sanduYTicks,levels:levels100,colors:colors10}];
const colKeys=['les','ctrl','new'];

function node(tag,parent){const e=document.createElementNS(NS,tag);parent.appendChild(e);return e;}
function pick(a,i){return Array.isArray(a)?a[i]:a;}
function colorOf(def,v){
 if(!(v>0))return null;
 const L=def.levels;
 if(v>=L[L.length-1])return overColor;
 for(let i=L.length-2;i>=0;i--){if(v>=L[i]){return i===0?null:def.colors[i-1];}}
 return null;
}
function makeAxes(r,c){
 const def=rowDefs[r],g=colGeom[c];
 const top=rowTops[r],bottom=top+plotH,left=g.l,right=def.ext?g.rExt:g.rFull;
 return {def,top,bottom,left,right,
  x:t=>left+(t-def.xd[0])/(def.xd[1]-def.xd[0])*(right-left),
  y:h=>bottom-h/def.yMax*plotH};
}
function drawRuns(parent,ax,heights,runs){
 runs.forEach((run,i)=>{
  const y0=ax.y(heights[i]),y1=ax.y(heights[i+1]);
  for(let k=0;k+2<run.length;k+=2){
   const col=colorOf(ax.def,run[k+1]);
   if(!col||run[k+2]<=run[k])continue;
   const cell=node('rect',parent);
   
   
   cell.setAttribute('x',ax.x(run[k]));
   cell.setAttribute('y',y1);
   cell.setAttribute('width',ax.x(run[k+2])-ax.x(run[k])+.3);
   cell.setAttribute('height',y0-y1+.3);
   cell.setAttribute('fill',col);
  }
 });
}
function drawBands(parent,ax,times,curves,values){
 values.forEach((v,i)=>{
  const lo=curves[i],hi=curves[i+1],pts=[];
  times.forEach((t,k)=>pts.push(ax.x(t).toFixed(1)+','+ax.y(hi[k]).toFixed(1)));
  for(let k=times.length-1;k>=0;k--)pts.push(ax.x(times[k]).toFixed(1)+','+(ax.y(lo[k])+.4).toFixed(1));
  const band=node('polygon',parent);
  
  
  band.setAttribute('points',pts.join(' '));
  band.setAttribute('fill',colorOf(ax.def,v));
 });
}
function drawStreaks(parent,ax,times,lows,tops,values,width){
 times.forEach((t,i)=>{
  const s=node('line',parent);
  
  
  s.setAttribute('x1',ax.x(t));
  s.setAttribute('x2',ax.x(t));
  s.setAttribute('y1',ax.y(pick(lows,i)));
  s.setAttribute('y2',ax.y(pick(tops,i)));
  s.setAttribute('stroke',colorOf(ax.def,pick(values,i)));
  s.setAttribute('stroke-width',width);
 });
}
function drawFrame(parent,ax){
 const def=ax.def;
 const f=node('rect',parent);
 
 
 f.setAttribute('x',ax.left);
 f.setAttribute('y',ax.top);
 f.setAttribute('width',ax.right-ax.left);
 f.setAttribute('height',plotH);
 f.setAttribute('fill','none');
 f.setAttribute('stroke','#666');
 f.setAttribute('stroke-width','1.4');
 def.xt.forEach((t,i)=>{
  const m=node('line',parent);
  
  
  m.setAttribute('x1',ax.x(t));
  m.setAttribute('x2',ax.x(t));
  m.setAttribute('y1',ax.bottom);
  m.setAttribute('y2',ax.bottom+5);
  m.setAttribute('stroke','#555');
  m.setAttribute('stroke-width','1.2');
  const l=node('text',parent);
  
  
  l.setAttribute('class','tick');
  l.setAttribute('x',ax.x(t));
  l.setAttribute('y',ax.bottom+20);
  l.setAttribute('text-anchor','middle');
  l.textContent=def.xl[i];
 });
 def.yt.forEach(h=>{
  const m=node('line',parent);
  
  
  m.setAttribute('x1',ax.left-5);
  m.setAttribute('x2',ax.left);
  m.setAttribute('y1',ax.y(h));
  m.setAttribute('y2',ax.y(h));
  m.setAttribute('stroke','#555');
  m.setAttribute('stroke-width','1.2');
  const l=node('text',parent);
  
  
  l.setAttribute('class','tick');
  l.setAttribute('x',ax.left-8);
  l.setAttribute('y',ax.y(h)+5.7);
  l.setAttribute('text-anchor','end');
  l.textContent=h.toFixed(1);
 });
 const yt=node('text',parent);
 
 
 yt.setAttribute('class','tick');
 yt.setAttribute('text-anchor','middle');
 yt.setAttribute('transform','translate('+(ax.left-41.5)+' '+(ax.top+plotH/2)+') rotate(-90)');
 yt.textContent='height above ground (km)';
 const xt=node('text',parent);
 
 
 xt.setAttribute('class','tick');
 xt.setAttribute('text-anchor','middle');
 xt.setAttribute('x',(ax.left+ax.right)/2);
 xt.setAttribute('y',ax.bottom+40);
 xt.textContent=xTitles[rowDefs.indexOf(ax.def)];
}
function drawColorbar(parent,ax,c){
 const def=ax.def,g=colGeom[c];
 const left=def.ext?g.cbExt:g.cbFull,w=16;
 const barTop=def.ext?ax.top+15.3:ax.top,n=def.levels.length-1;
 const step=(ax.bottom-barTop)/n;
 for(let i=0;i<n;i++){
  const col=i===0?'#fff':def.colors[i-1];
  const seg=node('rect',parent);
  
  
  seg.setAttribute('x',left);
  seg.setAttribute('y',ax.bottom-(i+1)*step);
  seg.setAttribute('width',w);
  seg.setAttribute('height',step+.3);
  seg.setAttribute('fill',col);
 }
 if(def.ext){
  const tri=node('polygon',parent);
  
  
  tri.setAttribute('points',left+','+barTop+' '+(left+w/2)+','+ax.top+' '+(left+w)+','+barTop);
  tri.setAttribute('fill',overColor);
 }
 const box=node('polygon',parent);
 
 
 box.setAttribute('points',def.ext?
  (left+','+ax.bottom+' '+left+','+barTop+' '+(left+w/2)+','+ax.top+' '+(left+w)+','+barTop+' '+(left+w)+','+ax.bottom):
  (left+','+ax.bottom+' '+left+','+barTop+' '+(left+w)+','+barTop+' '+(left+w)+','+ax.bottom));
 box.setAttribute('fill','none');
 box.setAttribute('stroke','#777');
 box.setAttribute('stroke-width','1.2');
 def.levels.forEach((v,i)=>{
  const y=ax.bottom-i*step;
  const m=node('line',parent);
  
  
  m.setAttribute('x1',left+w);
  m.setAttribute('x2',left+w+4);
  m.setAttribute('y1',y);
  m.setAttribute('y2',y);
  m.setAttribute('stroke','#555');
  m.setAttribute('stroke-width','1.1');
  const l=node('text',parent);
  
  
  l.setAttribute('class','tick');
  l.setAttribute('x',left+w+9);
  l.setAttribute('y',y+6.7);
  l.textContent=v.toFixed(2);
 });
}

const contents={
 armcu_les:(g,ax)=>{
  drawRuns(g,ax,armcuLesHeights,armcuLesRuns);
  drawStreaks(g,ax,armcuLesSpikeTime,armcuLesSpikeLow,armcuLesSpikeTop,1,1.5);
  drawStreaks(g,ax,armcuLesStreakTime,armcuLesStreakLow,armcuLesStreakTop,armcuLesStreakValue,1.6);
 },
 armcu_ctrl:(g,ax)=>drawRuns(g,ax,armcuCtrlHeights,armcuCtrlRuns),
 armcu_new:(g,ax)=>drawRuns(g,ax,armcuNewHeights,armcuNewRuns),
 fire_les:(g,ax)=>{
  drawBands(g,ax,fireLesTime,[fireLesBase,fireLesBlueTop,fireLesMidTop,fireLesCyanTop,fireLesTurqTop,fireLesGreenTop,fireLesYellowTop,fireLesOrangeTop,fireLesRedTop,fireLesCapOrange,fireLesCapYellow,fireLesCapCyan,fireLesTop],fireLesBandValues);
  drawBands(g,ax,fireLesDarkTime,[fireLesDarkBottom,fireLesDarkTop],[100]);
  drawStreaks(g,ax,fireLesToothTime,fireLesToothLow,fireLesToothTop,fireLesSlitValue,1.6);
  drawStreaks(g,ax,fireLesSlitTime,.44,fireLesSlitTop,fireLesSlitValue,1.1);
 },
 fire_ctrl:(g,ax)=>drawRuns(g,ax,fireCtrlHeights,fireCtrlRuns),
 fire_new:(g,ax)=>drawRuns(g,ax,fireNewHeights,fireNewRuns),
 rico_les:(g,ax)=>{
  drawBands(g,ax,ricoLesTime,[ricoLesBase,ricoLesStripe,ricoLesCyanLow,ricoLesLime,ricoLesGreen,ricoLesCyan,ricoLesAzure,ricoLesMid,ricoLesBody,ricoLesTop],ricoLesBandValues);
  drawStreaks(g,ax,ricoLesFineTime,ricoLesFineLow,ricoLesFineTop,ricoLesFineValue,2);
  drawStreaks(g,ax,ricoLesStreakTime,ricoLesStreakLow,ricoLesStreakTop,ricoLesStreakValue,1.6);
  drawStreaks(g,ax,ricoLesSpikeTime,ricoLesSpikeLow,ricoLesSpikeTop,ricoLesSpikeValue,1.3);
  drawStreaks(g,ax,ricoLesHotTime,ricoLesHotLow,ricoLesHotTop,ricoLesHotValue,5);
  drawRuns(g,ax,ricoLesEarlyHeights,ricoLesEarlyRuns);
 },
 rico_ctrl:(g,ax)=>drawRuns(g,ax,ricoCtrlHeights,ricoCtrlRuns),
 rico_new:(g,ax)=>drawRuns(g,ax,ricoNewHeights,ricoNewRuns),
 sandu_les:(g,ax)=>{
  drawBands(g,ax,sanduLesTime,[sanduLesBase,sanduLesA,sanduLesB,sanduLesC,sanduLesD,sanduLesE,sanduLesF,sanduLesG,sanduLesH,sanduLesTop],sanduLesBandValues);
  drawBands(g,ax,sanduLesThinATime,[sanduLesThinALow,sanduLesThinAHigh],[85]);
  drawBands(g,ax,sanduLesThinBTime,[sanduLesThinBLow,sanduLesThinBHigh],[85]);
  drawBands(g,ax,sanduLesThinCTime,[sanduLesThinCLow,sanduLesThinCHigh],[85]);
 },
 sandu_ctrl:(g,ax)=>drawRuns(g,ax,sanduCtrlHeights,sanduCtrlRuns),
 sandu_new:(g,ax)=>drawRuns(g,ax,sanduNewHeights,sanduNewRuns)
};

rowDefs.forEach((def,r)=>{
 colKeys.forEach((ck,c)=>{
  const ax=makeAxes(r,c);
  const panel=node('g',svg);
  
  
  const marks=node('g',panel);
  
  
  contents[def.key+'_'+ck](marks,ax);
  drawFrame(panel,ax);
  const cb=node('g',panel);
  
  
  drawColorbar(cb,ax,c);
 });
});
</script>
</body>
</html>
